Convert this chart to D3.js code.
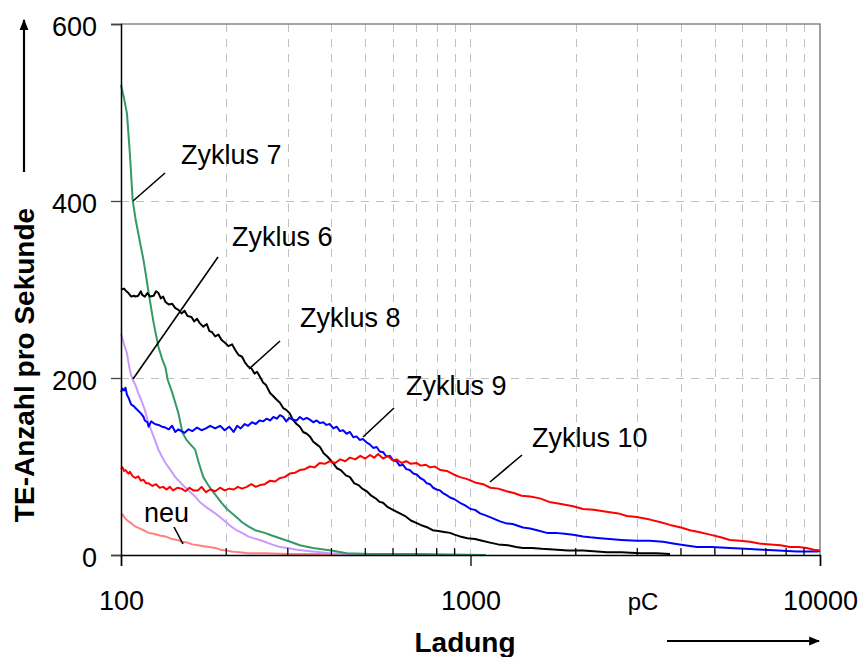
<!DOCTYPE html>
<html>
<head>
<meta charset="utf-8">
<script src="https://cdn.jsdelivr.net/npm/d3@7"></script>
<style>
  html, body { margin: 0; padding: 0; background: #fff; }
  svg { display: block; font-family: Arial, "Liberation Sans", sans-serif; }
</style>
</head>
<body>
<svg id="chart" width="861" height="657"></svg>
<script>
// Ladung in pC (x, logarithmisch) gegen TE-Anzahl pro Sekunde (y)
const xTickValues = [100, 1000, 10000];
const xTickLabels = ["100", "1000", "10000"];
const yTickValues = [0, 200, 400, 600];
const xUnit = "pC";
const xTitle = "Ladung";
const yTitle = "TE-Anzahl pro Sekunde";

const seriesNames = ["neu", "Zyklus 6", "Zyklus 7", "Zyklus 8", "Zyklus 9", "Zyklus 10"];
const seriesColors = ["#ff8080", "#cc99ff", "#339966", "#000000", "#0000ff", "#ff0000"];

const neu = [[100,45],[101,46],[102,43],[103,41],[105,38],[107,36],[110,32],[113,30],[116,28],[120,25],[124,24],[129,22],[134,21],[140,18],[145,17],[149,15],[155,14],[160,12],[166,11],[172,10],[179,9],[186,8],[193,6],[200,5],[207,4],[218,3],[231,2],[258,2],[300,1],[400,1],[540,0]];

const zyklus6 = [[100,250],[101,244],[102,238],[104,228],[105,218],[106,209],[107,203],[108,198],[110,192],[112,183],[114,176],[117,164],[119,153],[122,141],[125,130],[128,119],[131,111],[134,104],[138,97],[143,88],[147,83],[152,77],[157,72],[163,66],[168,60],[174,55],[180,51],[186,47],[193,42],[200,37],[207,32],[214,28],[222,25],[231,21],[244,18],[258,15],[270,12],[285,9],[300,8],[318,6],[354,4],[396,2],[450,1],[600,1],[800,0]];

const zyklus7 = [[100,531],[102,516],[104,499],[106,454],[108,401],[110,380],[113,356],[116,333],[118,315],[120,296],[124,262],[128,235],[131,222],[134,212],[136,198],[140,184],[143,172],[146,160],[150,138],[154,130],[158,125],[163,119],[167,104],[172,88],[177,80],[182,73],[188,66],[194,59],[201,52],[208,47],[215,42],[222,37],[232,32],[242,28],[258,25],[270,22],[285,19],[305,15],[325,11],[354,8],[400,5],[442,2],[520,1],[700,1],[1107,0]];

const zyklus8 = [[100,300],[102,301],[103,299],[105,296],[107,292],[109,293],[110,292],[112,293],[114,298],[115,294],[117,292],[119,296],[121,292],[124,293],[126,298],[128,296],[130,290],[132,292],[134,286],[137,283],[140,284],[143,279],[146,277],[149,273],[152,276],[155,270],[159,269],[162,264],[165,267],[168,262],[172,258],[176,261],[179,253],[182,252],[186,247],[190,249],[194,243],[198,240],[203,236],[208,238],[212,232],[217,226],[222,224],[226,218],[231,213],[236,211],[241,205],[245,207],[250,201],[255,195],[260,192],[267,183],[272,180],[278,176],[285,172],[291,166],[297,164],[304,160],[310,153],[318,148],[325,145],[332,139],[340,137],[347,134],[355,128],[363,125],[371,122],[380,115],[390,111],[404,104],[415,98],[425,96],[440,90],[452,88],[465,81],[478,79],[490,75],[505,72],[520,67],[535,64],[550,60],[562,59],[580,54],[600,51],[628,47],[650,44],[675,39],[702,36],[730,33],[755,31],[779,28],[810,27],[840,26],[874,25],[900,23],[933,21],[980,19],[1030,18],[1080,16],[1137,14],[1200,12],[1280,11],[1350,9],[1413,8],[1500,8],[1600,7],[1768,6],[1900,5],[2100,5],[2300,4],[2458,3],[2700,3],[3055,2],[3400,2],[3723,1]];

const zyklus9 = [[100,184],[101,188],[102,186],[103,189],[104,181],[105,178],[106,174],[107,170],[109,168],[110,166],[112,163],[114,160],[116,156],[117,152],[119,150],[120,145],[122,151],[125,148],[128,147],[131,145],[134,144],[137,142],[140,146],[143,139],[146,142],[149,140],[152,138],[156,142],[160,140],[165,144],[170,141],[175,143],[180,146],[186,143],[192,146],[198,141],[204,145],[210,139],[215,146],[220,143],[226,148],[231,146],[237,150],[243,148],[249,152],[255,151],[261,154],[267,152],[273,156],[279,154],[285,158],[291,156],[297,151],[303,155],[310,153],[318,152],[325,156],[332,153],[340,155],[347,153],[355,150],[363,152],[371,149],[379,150],[387,147],[396,148],[405,143],[414,145],[423,140],[432,141],[442,137],[452,139],[462,133],[472,134],[482,130],[492,131],[505,127],[515,125],[527,121],[539,122],[550,117],[563,116],[575,111],[588,112],[600,107],[614,106],[627,101],[641,102],[655,97],[670,96],[686,92],[702,91],[718,87],[734,85],[750,81],[766,80],[782,76],[800,74],[818,73],[834,70],[852,68],[874,65],[900,63],[933,59],[965,56],[1000,52],[1030,51],[1065,47],[1100,45],[1150,42],[1215,38],[1260,36],[1320,35],[1413,31],[1480,30],[1550,28],[1655,25],[1750,25],[1860,24],[1965,23],[2100,21],[2200,20],[2348,19],[2500,18],[2700,17],[2990,16],[3250,16],[3556,15],[3800,13],[4100,11],[4447,9],[4900,9],[5527,8],[6100,7],[6868,6],[7600,5],[8595,4],[9300,4],[9869,4],[10000,5]];

const zyklus10 = [[100,97],[101,99],[102,95],[103,96],[105,92],[106,94],[108,89],[110,87],[112,89],[114,84],[116,85],[118,81],[120,81],[123,78],[126,80],[129,76],[132,77],[135,74],[138,77],[141,73],[145,76],[149,75],[153,72],[157,76],[161,73],[166,73],[170,77],[175,71],[180,74],[186,72],[192,76],[198,73],[204,75],[210,74],[216,77],[222,75],[229,77],[236,80],[243,77],[250,79],[258,80],[267,84],[276,83],[285,87],[294,88],[304,92],[315,93],[325,96],[336,97],[347,100],[358,99],[370,104],[383,103],[396,106],[410,104],[424,108],[438,106],[452,110],[468,108],[484,112],[500,109],[516,113],[530,110],[544,114],[562,109],[580,112],[598,107],[615,108],[635,104],[655,106],[675,103],[700,104],[720,101],[745,102],[766,99],[790,100],[820,96],[855,95],[895,91],[933,88],[975,86],[1030,82],[1086,80],[1140,76],[1200,75],[1269,72],[1330,70],[1400,67],[1480,66],[1580,64],[1680,60],[1800,58],[1965,55],[2100,52],[2250,51],[2450,49],[2650,47],[2800,44],[2990,43],[3264,40],[3500,37],[3723,34],[4000,31],[4246,28],[4500,26],[4844,23],[5200,20],[5527,17],[5900,16],[6305,15],[6700,13],[7192,12],[7700,11],[8208,9],[8700,9],[9162,8],[9600,6],[10000,5]];

const seriesData = [neu, zyklus6, zyklus7, zyklus8, zyklus9, zyklus10];

// ---- layout ----
const plot = { left: 121, right: 820, top: 24, bottom: 555 };
const svg = d3.select("#chart");

const x = d3.scaleLog().domain([100, 10000]).range([plot.left, plot.right]);
const y = d3.scaleLinear().domain([0, 600]).range([plot.bottom, plot.top]);

// minor decade positions (200..900, 2000..9000) plus 1000
const minorTicks = x.ticks().filter(v => v > 100 && v < 10000);

const grid = svg.append("g").attr("stroke", "#c0c0c0").attr("stroke-width", 1)
  .attr("stroke-dasharray", "8,7").attr("fill", "none");
grid.selectAll("line.v").data(minorTicks).join("line")
  .attr("x1", d => Math.round(x(d)) + 0.5).attr("x2", d => Math.round(x(d)) + 0.5)
  .attr("y1", plot.top).attr("y2", plot.bottom);
grid.selectAll("line.h").data(yTickValues.filter(v => v > 0 && v < 600)).join("line")
  .attr("x1", plot.left).attr("x2", plot.right)
  .attr("y1", d => Math.round(y(d)) + 0.5).attr("y2", d => Math.round(y(d)) + 0.5);

// frame: grey top and right edges
svg.append("path")
  .attr("d", `M${plot.left},${plot.top}H${plot.right}V${plot.bottom}`)
  .attr("fill", "none").attr("stroke", "#888").attr("stroke-width", 1.6);

// data lines
const line = d3.line().x(d => x(d[0])).y(d => y(d[1]));
svg.append("g").selectAll("path").data(seriesData).join("path")
  .attr("d", line)
  .attr("fill", "none")
  .attr("stroke", (d, i) => seriesColors[i])
  .attr("stroke-width", 2)
  .attr("stroke-linejoin", "round");

// y axis
const yAxis = d3.axisLeft(y).tickValues(yTickValues).tickSize(10).tickPadding(14)
  .tickFormat(d3.format("d"));
const gy = svg.append("g").attr("transform", `translate(${plot.left},0)`).call(yAxis);
gy.select(".domain").attr("stroke", "#000").attr("stroke-width", 1.5);
gy.selectAll(".tick line").attr("stroke", "#444").attr("stroke-width", 1.3);
gy.selectAll(".tick text").attr("font-size", 27).attr("fill", "#000")
  .attr("font-family", "Arial, 'Liberation Sans', sans-serif").attr("dy", "0.42em");

// x axis: major ticks outside, minor ticks across the line
const xAxis = d3.axisBottom(x).tickValues(xTickValues).tickSize(11).tickPadding(25)
  .tickFormat((d, i) => xTickLabels[i]);
const gx = svg.append("g").attr("transform", `translate(0,${plot.bottom})`).call(xAxis);
gx.select(".domain").attr("stroke", "#000").attr("stroke-width", 1.5);
gx.selectAll(".tick line").attr("stroke", "#000").attr("stroke-width", 1.3);
gx.selectAll(".tick text").attr("font-size", 27).attr("fill", "#000")
  .attr("font-family", "Arial, 'Liberation Sans', sans-serif");
gx.selectAll("line.minor").data(minorTicks.filter(v => v !== 1000)).join("line")
  .attr("class", "minor")
  .attr("x1", d => x(d)).attr("x2", d => x(d))
  .attr("y1", -7).attr("y2", 1).attr("stroke", "#000").attr("stroke-width", 1.2);

// unit label between ticks
svg.append("text").attr("x", 643).attr("y", 610).attr("text-anchor", "middle")
  .attr("font-size", 24).text(xUnit);

// axis titles
svg.append("text").attr("x", 465).attr("y", 652).attr("text-anchor", "middle")
  .attr("font-size", 28).attr("font-weight", "bold").text(xTitle);
svg.append("text").attr("transform", "translate(34,365) rotate(-90)")
  .attr("text-anchor", "middle").attr("font-size", 28).attr("font-weight", "bold").text(yTitle);

// direction arrows
const defs = svg.append("defs");
defs.append("marker").attr("id", "head").attr("viewBox", "0 0 10 10")
  .attr("refX", 9).attr("refY", 5).attr("markerWidth", 5).attr("markerHeight", 5)
  .attr("markerUnits", "strokeWidth").attr("orient", "auto")
  .append("path").attr("d", "M0,1L10,5L0,9Z").attr("fill", "#000");
svg.append("line").attr("x1", 24).attr("y1", 172).attr("x2", 24).attr("y2", 20)
  .attr("stroke", "#000").attr("stroke-width", 2.2).attr("marker-end", "url(#head)");
svg.append("line").attr("x1", 667).attr("y1", 641).attr("x2", 819).attr("y2", 641)
  .attr("stroke", "#000").attr("stroke-width", 2.2).attr("marker-end", "url(#head)");

// curve labels with leader lines
const notes = [
  { name: "Zyklus 7", tx: 181, ty: 164, l: [165, 173, 133, 201] },
  { name: "Zyklus 6", tx: 232, ty: 246, l: [218, 257, 133, 379] },
  { name: "Zyklus 8", tx: 300, ty: 327, l: [280, 341, 249, 369] },
  { name: "Zyklus 9", tx: 406, ty: 395, l: [394, 408, 363, 437] },
  { name: "Zyklus 10", tx: 532, ty: 447, l: [522, 455, 490, 482] },
  { name: "neu", tx: 144, ty: 522, l: [174, 527, 183, 544] }
];
const ann = svg.append("g");
ann.selectAll("line").data(notes).join("line")
  .attr("x1", d => d.l[0]).attr("y1", d => d.l[1]).attr("x2", d => d.l[2]).attr("y2", d => d.l[3])
  .attr("stroke", "#000").attr("stroke-width", 1.6);
ann.selectAll("text").data(notes).join("text")
  .attr("x", d => d.tx).attr("y", d => d.ty).attr("font-size", 27).text(d => d.name);
</script>
</body>
</html>
